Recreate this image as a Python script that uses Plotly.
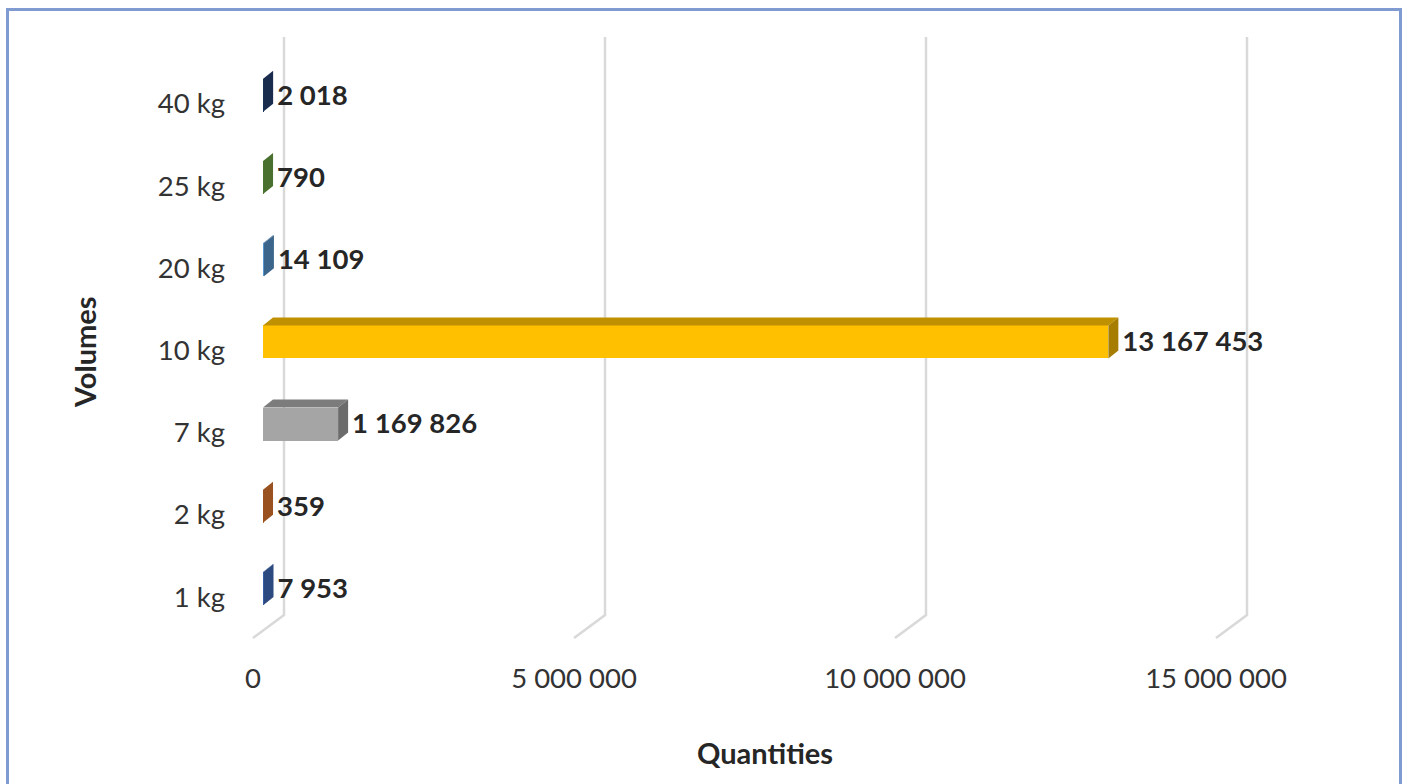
import plotly.graph_objects as go

# chart data
volumes = ['1 kg', '2 kg', '7 kg', '10 kg', '20 kg', '25 kg', '40 kg']
quantities = [7953, 359, 1169826, 13167453, 14109, 790, 2018]
bar_colors = ['#4472C4', '#ED7D31', '#A5A5A5', '#FFC000', '#5B9BD5', '#70AD47', '#264478']
x_ticks = [0, 5000000, 10000000, 15000000]

# page / plot area in pixels
W, H = 1407, 784
L, R, T, B = 240, 107, 30, 134
PW, PH = W - L - R, H - T - B
X0_PX, X_PER_PX = 263, 1 / 64.2e-6   # front plane of the bars
Y0_PX, Y_PX = 597, 82.2              # '1 kg' row, px per category


def dx(px):
    return px * X_PER_PX


def dy(px):
    return px / Y_PX


def paper_x(px):
    return (px - L) / PW


def paper_y(px):
    return (H - B - px) / PH


def shade(hex_color, f):
    r, g, b = (int(hex_color[i:i + 2], 16) for i in (1, 3, 5))
    return '#%02X%02X%02X' % (round(r * f), round(g * f), round(b * f))


def fmt(v):
    return f'{v:,}'.replace(',', ' ')


x_range = [dx(L - X0_PX), dx(W - R - X0_PX)]
y_range = [dy(Y0_PX - (H - B)), dy(Y0_PX - T)]

# 3d look
DEPTH_X, DEPTH_Y = dx(10), dy(8)
BAR_LOW, BAR_H = -dy(8), dy(33)
GRID_BACK_X = dx(21)
GRID_FRONT_X = -dx(10)
GRID_BACK_Y, GRID_FRONT_Y, GRID_TOP_Y = dy(-18), dy(-41), dy(560)

fig = go.Figure()

# front faces
fig.add_trace(go.Bar(
    y=list(range(len(volumes))), x=quantities, orientation='h',
    width=BAR_H, offset=BAR_LOW, marker=dict(color=bar_colors, line=dict(width=0)),
    hoverinfo='skip', showlegend=False))

# top and side faces
for i, (v, c) in enumerate(zip(quantities, bar_colors)):
    yb, yt = i + BAR_LOW, i + BAR_LOW + BAR_H
    fig.add_trace(go.Scatter(
        x=[0, v, v + DEPTH_X, DEPTH_X, 0], y=[yt, yt, yt + DEPTH_Y, yt + DEPTH_Y, yt],
        fill='toself', fillcolor=shade(c, 0.75), mode='lines', line=dict(width=0),
        hoverinfo='skip', showlegend=False))
    fig.add_trace(go.Scatter(
        x=[v, v + DEPTH_X, v + DEPTH_X, v, v], y=[yb, yb + DEPTH_Y, yt + DEPTH_Y, yt, yb],
        fill='toself', fillcolor=shade(c, 0.65), mode='lines', line=dict(width=0),
        hoverinfo='skip', showlegend=False))

# data labels
fig.add_trace(go.Scatter(
    x=[v + DEPTH_X + dx(4) for v in quantities],
    y=[i + dy(6) for i in range(len(volumes))],
    text=[fmt(v) for v in quantities], mode='text', textposition='middle right',
    textfont=dict(family='Lato', size=27.5, color='#262626', weight='bold'),
    hoverinfo='skip', showlegend=False))

# back wall gridlines with floor edges
for v in x_ticks:
    fig.add_shape(type='path', layer='below', xref='x', yref='y',
                  path=f'M {v + GRID_BACK_X},{GRID_TOP_Y} L {v + GRID_BACK_X},{GRID_BACK_Y} '
                       f'L {v + GRID_FRONT_X},{GRID_FRONT_Y}',
                  line=dict(color='#D9D9D9', width=2.5))

# outer border
fig.add_shape(type='rect', xref='paper', yref='paper',
              x0=paper_x(7.5), x1=paper_x(1400.5), y0=paper_y(830), y1=paper_y(9.5),
              line=dict(color='#7F9BD1', width=3))

fig.add_annotation(text='Volumes', textangle=-90, xref='paper', yref='paper',
                   x=paper_x(85), y=paper_y(352), xanchor='center', yanchor='middle',
                   showarrow=False,
                   font=dict(family='Lato', size=29, color='#262626', weight='bold'))
fig.add_annotation(text='Quantities', xref='paper', yref='paper',
                   x=paper_x(765), y=paper_y(753), xanchor='center', yanchor='middle',
                   showarrow=False,
                   font=dict(family='Lato', size=29, color='#262626', weight='bold'))

fig.update_xaxes(range=x_range, showgrid=False, zeroline=False, showline=False,
                 tickvals=[v + GRID_FRONT_X for v in x_ticks], ticktext=[fmt(v) for v in x_ticks],
                 ticks='', ticklabelstandoff=9,
                 tickfont=dict(family='Lato', size=27.5, color='#333333'))
fig.update_yaxes(range=y_range, showgrid=False, zeroline=False, showline=False,
                 tickvals=list(range(len(volumes))), ticktext=volumes,
                 ticks='', ticklabelstandoff=14,
                 tickfont=dict(family='Lato', size=27.5, color='#333333'))
fig.update_layout(width=W, height=H, margin=dict(l=L, r=R, t=T, b=B),
                  plot_bgcolor='white', paper_bgcolor='white', bargap=0)

# drop the page margin so the figure fills the window
fig.write_html('out.html', config={'displayModeBar': False},
               post_script="document.body.style.margin = '0';")
